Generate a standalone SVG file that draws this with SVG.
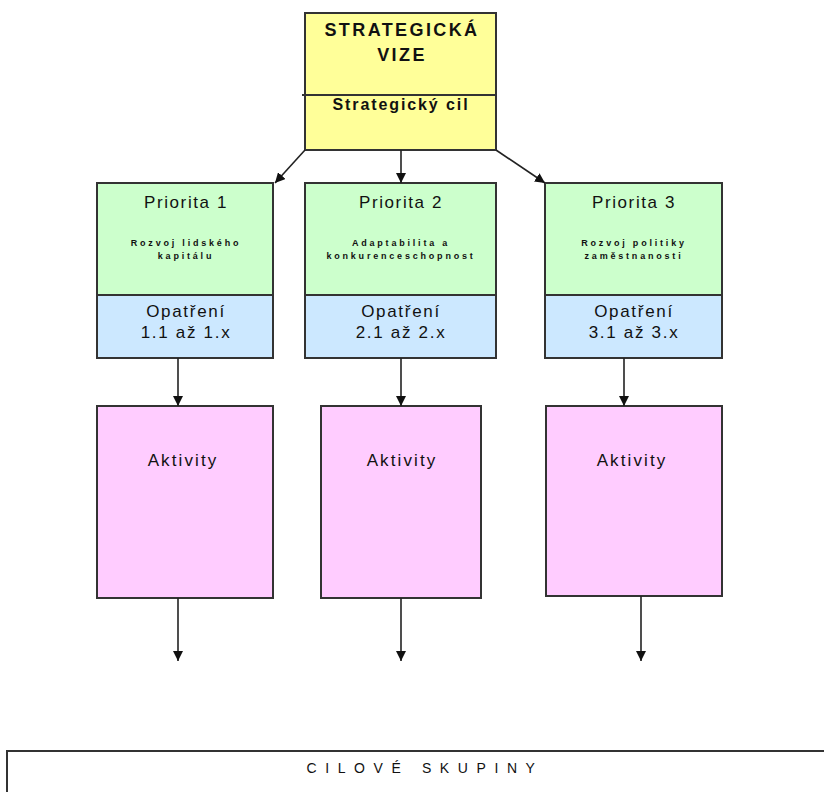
<svg xmlns="http://www.w3.org/2000/svg" width="824" height="792" viewBox="0 0 824 792">
  <defs>
    <marker id="arrow" viewBox="0 0 10 10" refX="10" refY="5" markerWidth="10" markerHeight="10" markerUnits="userSpaceOnUse" orient="auto">
      <path d="M0,0 L10,5 L0,10 z" fill="#111"/>
    </marker>
    <style>
      .box { stroke: #333; stroke-width: 2; }
      .vize { fill: #FFFF99; }
      .prio { fill: #CCFFCC; }
      .opat { fill: #CCE8FF; }
      .akt { fill: #FFCCFF; }
      .conn line { stroke: #222; stroke-width: 1.6; marker-end: url(#arrow); }
      text { font-family: "Liberation Sans", Arial, sans-serif; fill: #111; text-anchor: middle; }
      .title { font-size: 18px; font-weight: bold; letter-spacing: 2.4px; }
      .goal { font-size: 16px; font-weight: bold; letter-spacing: 1.9px; }
      .head { font-size: 17px; letter-spacing: 1.6px; }
      .small { font-size: 9px; font-weight: bold; letter-spacing: 2.8px; }
      .mid { font-size: 17px; letter-spacing: 1.7px; }
      .act { font-size: 17px; letter-spacing: 2.1px; }
      .target { font-size: 14px; letter-spacing: 8.6px; }
    </style>
  </defs>

  <g id="vize">
    <rect class="box vize" x="305" y="13" width="191" height="137"/>
    <line x1="302" y1="95" x2="496" y2="95" stroke="#333" stroke-width="2"/>
    <text class="title" x="402" y="36">STRATEGICKÁ</text>
    <text class="title" x="402" y="61">VIZE</text>
    <text class="goal" x="401" y="110">Strategický cil</text>
  </g>

  <g id="priorita1">
    <rect class="box prio" x="97" y="183" width="176" height="112"/>
    <text class="head" x="186" y="208">Priorita 1</text>
    <text class="small" x="186" y="246">Rozvoj lidského</text>
    <text class="small" x="186" y="259">kapitálu</text>
  </g>
  <g id="priorita2">
    <rect class="box prio" x="305" y="183" width="191" height="112"/>
    <text class="head" x="401" y="208">Priorita 2</text>
    <text class="small" x="401" y="246">Adaptabilita a</text>
    <text class="small" x="401" y="259">konkurenceschopnost</text>
  </g>
  <g id="priorita3">
    <rect class="box prio" x="545" y="183" width="177" height="112"/>
    <text class="head" x="634" y="208">Priorita 3</text>
    <text class="small" x="634" y="246">Rozvoj politiky</text>
    <text class="small" x="634" y="259">zaměstnanosti</text>
  </g>

  <g id="opatreni1">
    <rect class="box opat" x="97" y="295" width="176" height="63"/>
    <text class="mid" x="186" y="317">Opatření</text>
    <text class="mid" x="186" y="338">1.1 až 1.x</text>
  </g>
  <g id="opatreni2">
    <rect class="box opat" x="305" y="295" width="191" height="63"/>
    <text class="mid" x="401" y="317">Opatření</text>
    <text class="mid" x="401" y="338">2.1 až 2.x</text>
  </g>
  <g id="opatreni3">
    <rect class="box opat" x="545" y="295" width="177" height="63"/>
    <text class="mid" x="634" y="317">Opatření</text>
    <text class="mid" x="634" y="338">3.1 až 3.x</text>
  </g>

  <g id="aktivity1">
    <rect class="box akt" x="97" y="406" width="176" height="192"/>
    <text class="act" x="183" y="466">Aktivity</text>
  </g>
  <g id="aktivity2">
    <rect class="box akt" x="321" y="406" width="160" height="192"/>
    <text class="act" x="402" y="466">Aktivity</text>
  </g>
  <g id="aktivity3">
    <rect class="box akt" x="546" y="406" width="176" height="190"/>
    <text class="act" x="632" y="466">Aktivity</text>
  </g>

  <g id="cilove-skupiny">
    <path d="M7,792 V751 H824" fill="none" stroke="#333" stroke-width="2"/>
    <text class="target" x="425" y="773">CILOVÉ SKUPINY</text>
  </g>

  <g id="connectors" class="conn">
    <line x1="305" y1="150" x2="275" y2="183"/>
    <line x1="401" y1="150" x2="401" y2="183"/>
    <line x1="496" y1="150" x2="545" y2="183"/>
    <line x1="178" y1="358" x2="178" y2="406"/>
    <line x1="401" y1="358" x2="401" y2="406"/>
    <line x1="624" y1="358" x2="624" y2="406"/>
    <line x1="178" y1="598" x2="178" y2="661"/>
    <line x1="401" y1="598" x2="401" y2="661"/>
    <line x1="641" y1="596" x2="641" y2="661"/>
  </g>
</svg>
